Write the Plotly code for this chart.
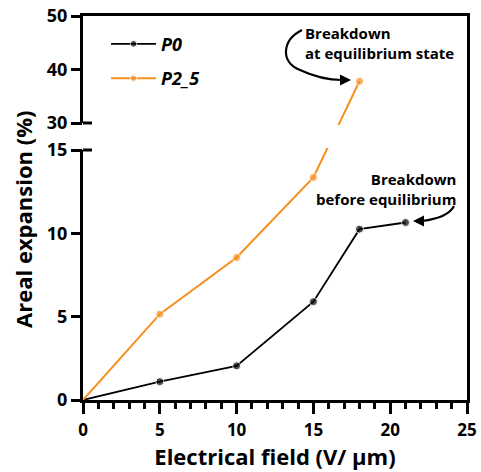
import plotly.graph_objects as go

# ---------------- data ----------------
field = [0, 5, 10, 15, 18, 21]
p0 = [0, 1.1, 2.05, 5.9, 10.25, 10.65]
field_p25 = [0, 5, 10, 15, 18]
p25 = [0, 5.15, 8.55, 13.35, 37.8]

x_ticks = [0, 5, 10, 15, 20, 25]
y_ticks = [0, 5, 10, 15, 30, 40, 50]
y_ticklabels = ["0", "5", "10", "15", "30", "40", "50"]

# ---------------- broken-axis mapping ----------------
LOW_MAX, UP_MIN, UP_MAX = 15, 30, 50
GAP = 1.62      # gap between 15 and 30 in lower-axis units
K = 0.321       # compression factor of upper segment


def yt(v):
    return v if v <= LOW_MAX else LOW_MAX + GAP + (v - UP_MIN) * K


Y_TOP = yt(UP_MAX) + 1e-6

# body margin removed by post_script; plot area in picture pixels: (83,16)-(467,400)
OFF = 0
PL, PB, PW, PH = 83, 400, 384, 384
FIG_W, FIG_H = 481 - OFF, 472 - OFF


def px2x(px):
    return (px - PL) / PW * 25


def py2y(py):
    return (PB - py) / PH * Y_TOP


def px2p(px):
    return (px - PL) / PW


def py2p(py):
    return (PB - py) / PH


FONT = "Open Sans"
BLACK = "#000000"
ORANGE = "#F78F1E"

fig = go.Figure()

fig.add_trace(go.Scatter(
    x=field, y=[yt(v) for v in p0], name="P0", mode="lines+markers",
    line=dict(color=BLACK, width=1.8),
    marker=dict(color=BLACK, size=[0 if x == 0 else 8 for x in field]),
    legendgroup="a",
))
fig.add_trace(go.Scatter(
    x=field_p25, y=[yt(v) for v in p25], name="P2_5", mode="lines+markers",
    line=dict(color=ORANGE, width=2),
    marker=dict(color=ORANGE, size=[0 if x == 0 else 8 for x in field_p25]),
    legendgroup="b",
))

shapes = []
# white gap in data lines at the axis break
shapes.append(dict(type="rect", xref="x", yref="y", x0=0.2, x1=24.6,
                   y0=LOW_MAX + 0.12, y1=LOW_MAX + GAP - 0.12,
                   fillcolor="white", line=dict(width=0), layer="above"))
# left axis (two segments) and right frame line
yb = PB + 3
shapes.append(dict(type="line", xref="paper", yref="paper",
                   x0=px2p(PL - 1.5), x1=px2p(PL - 1.5), y0=py2p(yb), y1=py2p(PB - PH * yt(LOW_MAX) / Y_TOP),
                   line=dict(color=BLACK, width=3), layer="above"))
shapes.append(dict(type="line", xref="paper", yref="paper",
                   x0=px2p(PL - 1.5), x1=px2p(PL - 1.5), y0=py2p(PB - PH * yt(UP_MIN) / Y_TOP), y1=py2p(PB - PH - 3),
                   line=dict(color=BLACK, width=3), layer="above"))
shapes.append(dict(type="line", xref="paper", yref="paper",
                   x0=px2p(PL + PW + 1.5), x1=px2p(PL + PW + 1.5), y0=py2p(yb), y1=py2p(PB - PH - 3),
                   line=dict(color=BLACK, width=3), layer="above"))
# break caps
for v in (LOW_MAX, UP_MIN):
    shapes.append(dict(type="line", xref="x", yref="y", x0=px2x(PL - 11), x1=px2x(PL + 9),
                       y0=yt(v), y1=yt(v), line=dict(color=BLACK, width=3),
                       layer="above"))


def path(pts):
    (x0, y0) = pts[0]
    s = f"M {px2x(x0)},{py2y(y0)}"
    rest = pts[1:]
    for i in range(0, len(rest), 3):
        c1, c2, e = rest[i:i + 3]
        s += (f" C {px2x(c1[0])},{py2y(c1[1])} {px2x(c2[0])},{py2y(c2[1])}"
              f" {px2x(e[0])},{py2y(e[1])}")
    return s


# curved arrow (top)
shapes.append(dict(type="path", xref="x", yref="y",
                   path=path([(302, 30), (282, 40), (280, 62), (300, 70),
                              (315, 77), (330, 80), (342, 80)]),
                   line=dict(color=BLACK, width=2.2)))
# curved arrow (bottom)
shapes.append(dict(type="path", xref="x", yref="y",
                   path=path([(454, 206), (450, 214), (438, 219), (422, 221)]),
                   line=dict(color=BLACK, width=2.2)))

annotations = [
    dict(x=px2x(303), y=py2y(43), xref="x", yref="y", xanchor="left", yanchor="middle",
         text="Breakdown<br>at equilibrium state", align="left", showarrow=False,
         font=dict(family=FONT, size=15, color=BLACK, weight="bold")),
    dict(x=px2x(458), y=py2y(189), xref="x", yref="y", xanchor="right", yanchor="middle",
         text="Breakdown<br>before equilibrium", align="right", showarrow=False,
         font=dict(family=FONT, size=15, color=BLACK, weight="bold")),
    dict(x=px2x(351), y=py2y(80), xref="x", yref="y", ax=-10, ay=0, text="",
         showarrow=True, arrowhead=2, arrowsize=1, arrowwidth=2.2, arrowcolor=BLACK),
    dict(x=px2x(413), y=py2y(221), xref="x", yref="y", ax=10, ay=0, text="",
         showarrow=True, arrowhead=2, arrowsize=1, arrowwidth=2.2, arrowcolor=BLACK),
    # y-axis title
    dict(x=px2p(23), y=py2p(220), xref="paper", yref="paper", xanchor="center", yanchor="middle",
         text="Areal expansion (%)", textangle=-90, showarrow=False,
         font=dict(family=FONT, size=22, color=BLACK, weight="bold")),
]

fig.update_layout(
    width=FIG_W, height=FIG_H,
    margin=dict(l=PL - OFF, r=FIG_W - (PL - OFF) - PW, t=PB - PH - OFF,
                b=FIG_H - (PB - OFF), autoexpand=False),
    paper_bgcolor="white", plot_bgcolor="white",
    font=dict(family=FONT, color=BLACK),
    shapes=shapes, annotations=annotations,
    showlegend=True,
    legend=dict(x=0.06, y=0.975, xanchor="left", yanchor="top", itemwidth=45,
                bgcolor="rgba(0,0,0,0)", tracegroupgap=8,
                font=dict(family=FONT, size=18, color=BLACK, weight="bold", style="italic")),
    xaxis=dict(range=[0, 25], tickvals=x_ticks, ticks="outside", ticklen=11, tickwidth=3,
               tickcolor=BLACK, showline=True, linewidth=3, linecolor=BLACK, mirror=True,
               showgrid=False, zeroline=False, automargin=False, ticklabelstandoff=2,
               ticklabeloverflow="allow",
               minor=dict(dtick=1, ticks="outside", ticklen=6, tickwidth=3, tickcolor=BLACK),
               tickfont=dict(family=FONT, size=17, color=BLACK, weight="bold"),
               title=dict(text="Electrical field (V/ µm)", standoff=6,
                          font=dict(family=FONT, size=22, color=BLACK, weight="bold"))),
    yaxis=dict(range=[0, Y_TOP], tickvals=[yt(v) for v in y_ticks], ticktext=y_ticklabels,
               ticks="outside", ticklen=11, tickwidth=3, tickcolor=BLACK,
               showline=False, showgrid=False, zeroline=False, automargin=False,
               ticklabeloverflow="allow",
               tickfont=dict(family=FONT, size=18, color=BLACK, weight="bold")),
)

fig.write_html("out.html", config={"displayModeBar": False},
               post_script="document.body.style.margin='0';document.body.style.overflow='hidden';")
